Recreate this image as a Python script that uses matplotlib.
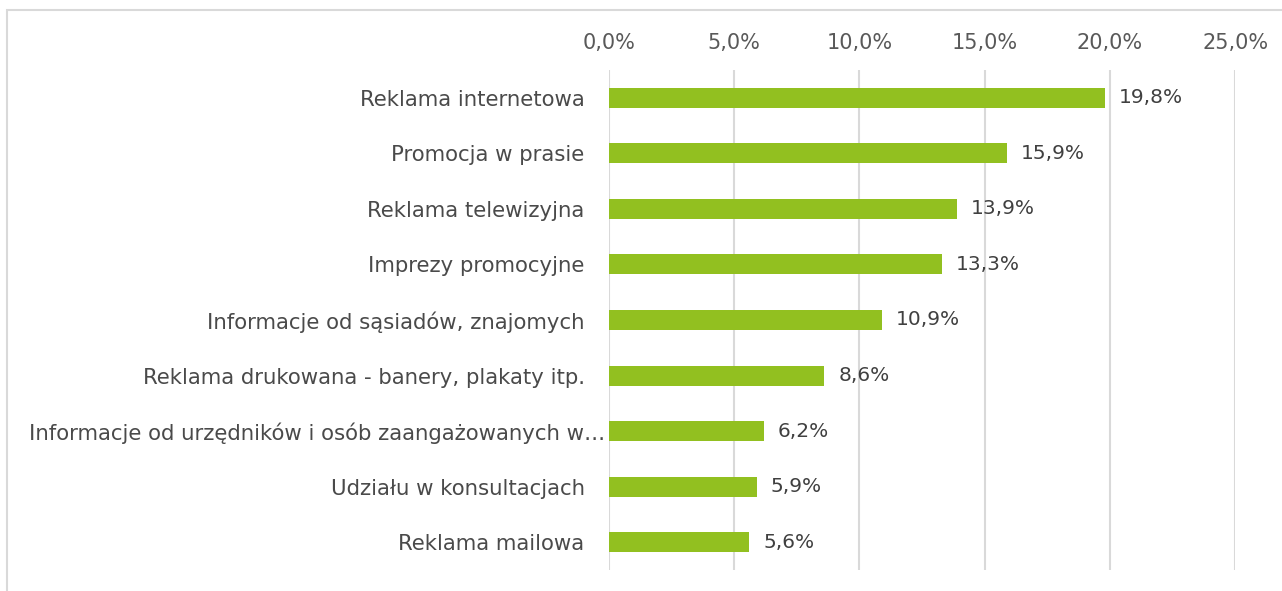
import matplotlib
matplotlib.use("Agg")
import matplotlib.pyplot as plt
from matplotlib.patches import Rectangle
from matplotlib.ticker import FuncFormatter

# dane z wykresu (spacje na koncu jak w oryginalnych etykietach)
sp = "\u00a0" * 3
kategorie = [
    "Reklama internetowa" + sp,
    "Promocja w prasie" + sp,
    "Reklama telewizyjna" + sp,
    "Imprezy promocyjne" + sp,
    "Informacje od sąsiadów, znajomych" + sp,
    "Reklama drukowana - banery, plakaty itp." + sp,
    "Informacje od urzędników i osób zaangażowanych w…",
    "Udziału w konsultacjach" + sp,
    "Reklama mailowa" + sp,
]
wartosci = [19.8, 15.9, 13.9, 13.3, 10.9, 8.6, 6.2, 5.9, 5.6]
ticki = [0, 5, 10, 15, 20, 25]

kolor_slupka = "#92c020"
kolor_tekstu = "#595959"
kolor_siatki = "#d9d9d9"

plt.rcParams["font.family"] = ["DejaVu Sans"]

fig = plt.figure(figsize=(12.82, 5.91), dpi=100)
ax = fig.add_axes([0.475, 0.0355, 0.4885, 0.8461])

# ramka wykresu (ucieta na prawej i dolnej krawedzi)
fig.patches.append(Rectangle((7 / 1282, -0.1), 1.2, 1.1 - 10 / 591,
                             transform=fig.transFigure, fill=False,
                             edgecolor=kolor_siatki, linewidth=1.5))

y = list(range(len(kategorie)))
ax.barh(y, wartosci, height=0.36, color=kolor_slupka, zorder=3)

for yi, v in zip(y, wartosci):
    ax.text(v + 0.55, yi, f"{v:.1f}%".replace(".", ","), va="center", ha="left",
            fontsize=14.5, color="#404040")

ax.set_xlim(0, 25)
ax.set_ylim(len(kategorie) - 0.5, -0.5)
ax.set_xticks(ticki)
ax.xaxis.set_major_formatter(FuncFormatter(lambda x, p: f"{x:.1f}%".replace(".", ",")))
ax.xaxis.tick_top()
ax.set_yticks(y)
ax.set_yticklabels(kategorie)
ax.tick_params(axis="x", length=0, pad=12, labelsize=15, colors=kolor_tekstu)
ax.tick_params(axis="y", length=0, pad=3, labelsize=15.3, colors="#4a4a4a")
ax.grid(axis="x", color=kolor_siatki, linewidth=1.5, zorder=0)
for s in ax.spines.values():
    s.set_visible(False)

fig.savefig("out.png", dpi=100)
